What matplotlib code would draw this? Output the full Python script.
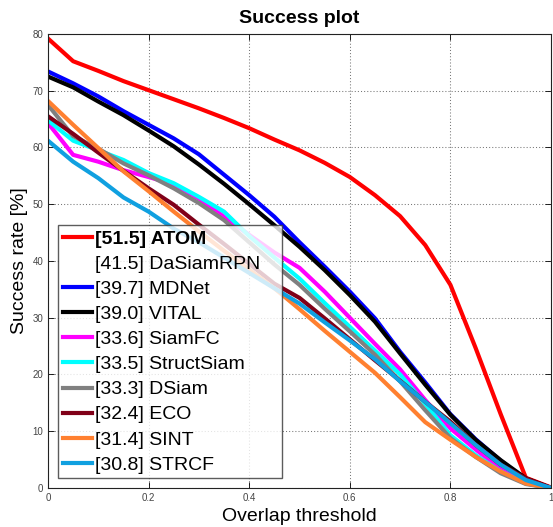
import matplotlib
matplotlib.use('Agg')
import matplotlib.pyplot as plt
import numpy as np

plt.rcParams['font.family'] = ['Liberation Sans', 'DejaVu Sans']

# overlap thresholds 0:0.05:1
thresholds = np.linspace(0, 1, 21)

trackers = ['ATOM', 'DaSiamRPN', 'MDNet', 'VITAL', 'SiamFC', 'StructSiam',
            'DSiam', 'ECO', 'SINT', 'STRCF']
auc = [51.5, 41.5, 39.7, 39.0, 33.6, 33.5, 33.3, 32.4, 31.4, 30.8]

atom = [79.2, 75.2, 73.5, 71.7, 70.1, 68.5, 66.9, 65.2, 63.4, 61.4, 59.5,
        57.3, 54.8, 51.6, 47.9, 42.8, 35.8, 24.7, 13.0, 1.8, 0.1]
dasiamrpn = []  # drawn in white in the original, not visible
mdnet = [73.4, 71.3, 69.0, 66.4, 64.0, 61.6, 58.8, 55.2, 51.6, 47.8, 43.3,
         39.0, 34.6, 29.9, 24.0, 18.6, 13.0, 8.6, 4.8, 1.5, 0.0]
vital = [72.5, 70.6, 68.1, 65.7, 63.0, 60.2, 57.0, 53.6, 50.0, 46.3, 42.5,
         38.4, 34.0, 29.3, 23.7, 18.2, 12.9, 8.5, 4.9, 1.7, 0.0]
siamfc = [64.3, 58.7, 57.5, 56.0, 54.8, 53.5, 51.0, 47.8, 44.6, 41.5, 38.8,
          34.6, 30.0, 25.4, 20.9, 15.5, 10.5, 6.8, 3.3, 1.0, 0.0]
structsiam = [64.8, 61.2, 59.5, 57.8, 55.5, 53.7, 51.3, 48.7, 44.4, 40.6,
              36.9, 32.6, 28.4, 24.2, 20.0, 14.8, 9.3, 5.8, 2.9, 0.8, 0.0]
dsiam = [67.5, 62.0, 59.8, 57.2, 55.1, 52.8, 50.2, 47.2, 43.3, 39.4, 35.8,
         31.6, 27.6, 23.5, 18.8, 13.7, 8.8, 5.5, 2.6, 0.7, 0.0]
eco = [65.5, 62.4, 59.1, 55.9, 52.8, 49.9, 46.4, 43.0, 39.5, 36.0, 33.5,
       29.9, 26.2, 22.5, 18.9, 15.2, 11.7, 7.6, 4.1, 1.7, 0.0]
sint = [68.2, 64.0, 59.9, 55.8, 52.3, 48.7, 45.2, 41.8, 38.5, 35.2, 31.5,
        27.7, 24.0, 20.3, 16.0, 11.6, 8.5, 5.5, 2.9, 0.8, 0.0]
strcf = [61.2, 57.5, 54.6, 51.2, 48.7, 45.7, 43.3, 40.6, 37.9, 35.2, 32.5,
         29.2, 26.0, 22.7, 18.8, 15.2, 11.4, 7.6, 4.1, 1.4, 0.0]

curves = [atom, dasiamrpn, mdnet, vital, siamfc, structsiam, dsiam, eco, sint, strcf]
colors = ['#ff0000', '#ffffff', '#0000ff', '#000000', '#ff00ff', '#00ffff',
          '#808080', '#800018', '#ff8030', '#10a0e0']

fig = plt.figure(figsize=(5.53, 5.27), dpi=100)
ax = fig.add_axes([0.0868, 0.074, 0.9096, 0.8615])

for name, score, ys, col in zip(trackers, auc, curves, colors):
    lab = '[%.1f] %s' % (score, name)
    if len(ys) == 0:
        ax.plot([], [], color=col, lw=3, label=lab)
    else:
        ax.plot(thresholds, ys, color=col, lw=3, label=lab)

ax.set_xlim(0, 1)
ax.set_ylim(0, 80)
ax.set_xticks([0, 0.2, 0.4, 0.6, 0.8, 1])
ax.set_xticklabels(['0', '0.2', '0.4', '0.6', '0.8', '1'])
ax.set_yticks(range(0, 81, 10))
ax.tick_params(direction='in', top=True, right=True, labelsize=7,
               labelcolor='#444444', length=4, width=0.6)
ax.grid(True, linestyle=(0, (1, 2)), color='#777777', linewidth=0.75)
for s in ax.spines.values():
    s.set_color('#222222')
    s.set_linewidth(0.8)

ax.set_title('Success plot', fontsize=14, fontweight='bold', pad=8)
ax.set_xlabel('Overlap threshold', fontsize=14, labelpad=4)
ax.set_ylabel('Success rate [%]', fontsize=14, labelpad=3)

leg = ax.legend(loc='lower left', bbox_to_anchor=(0.02, 0.021, 0.445, 0.55),
                mode='expand', borderaxespad=0, fontsize=14, frameon=True,
                fancybox=False, handlelength=1.5, handletextpad=0.15,
                labelspacing=0.385, borderpad=0.25)
leg.get_frame().set_edgecolor('#333333')
leg.get_frame().set_linewidth(1.0)
leg.get_texts()[0].set_fontweight('bold')

fig.savefig('out.png', dpi=100)
